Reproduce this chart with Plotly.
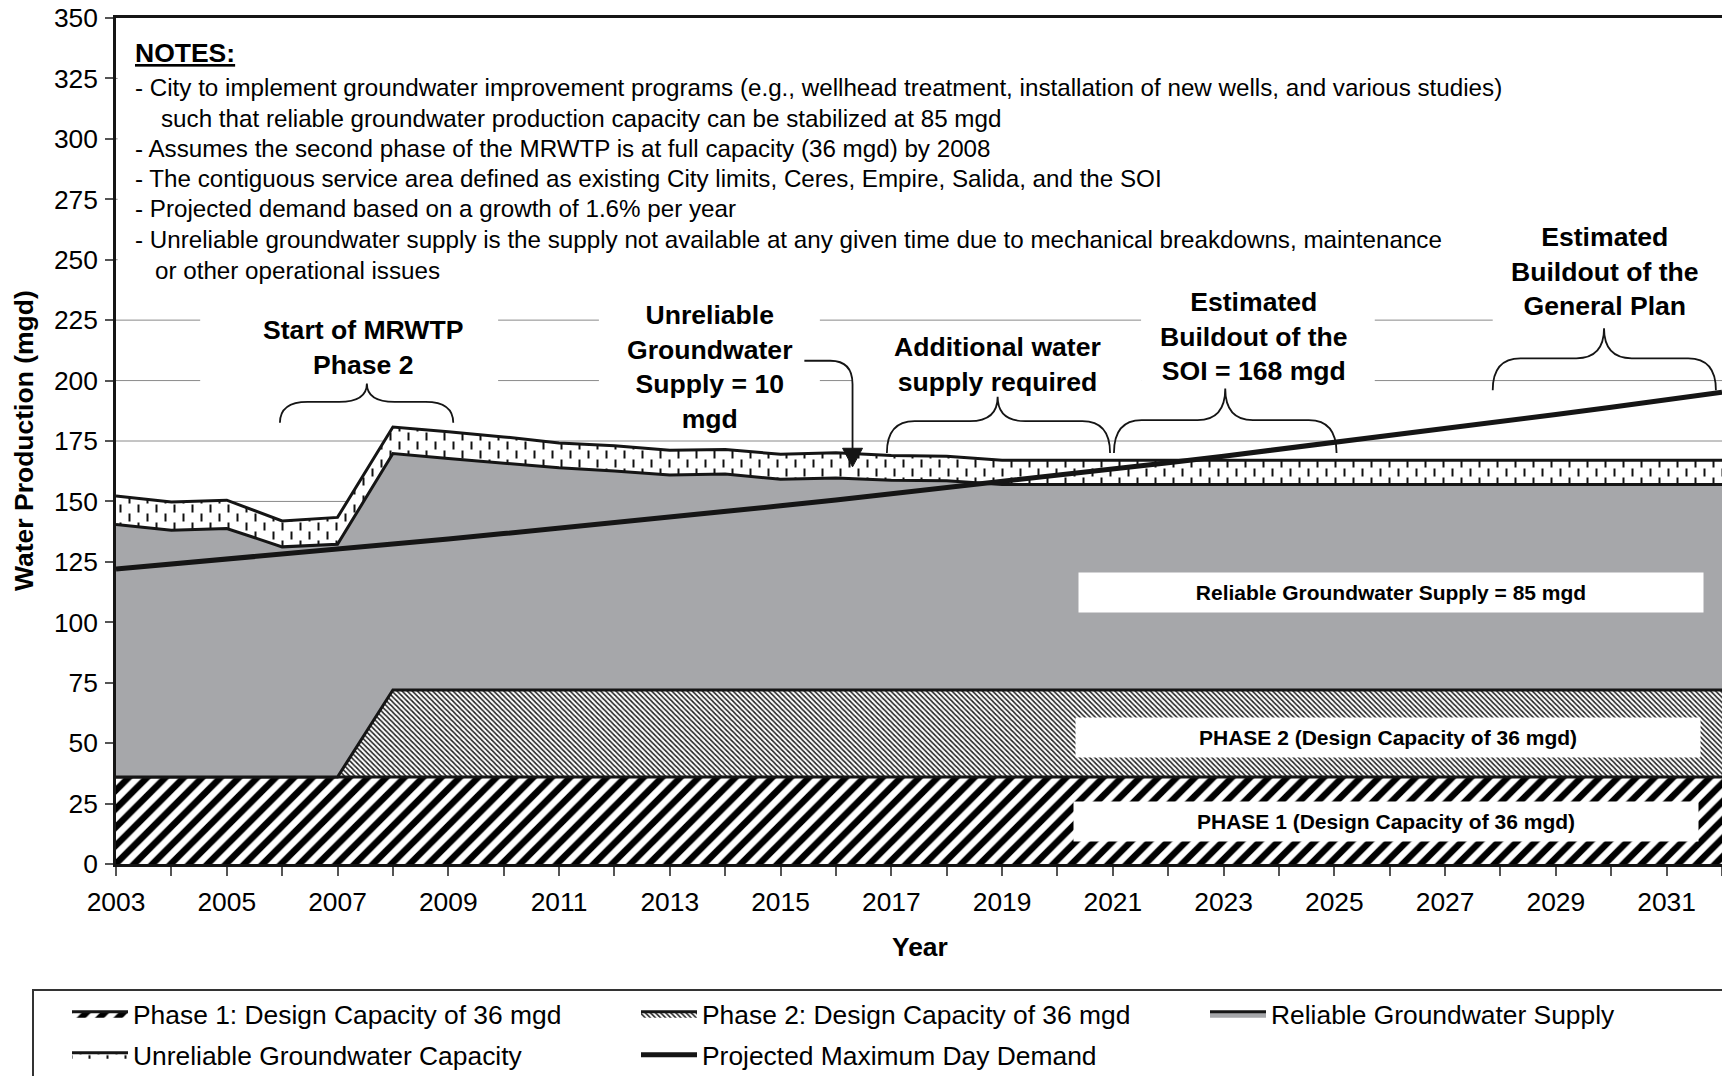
import plotly.graph_objects as go

# ---------------- data ----------------
years = [2003, 2004, 2005, 2006, 2007, 2008, 2009, 2010, 2011, 2012,
         2013, 2014, 2015, 2016, 2017, 2018, 2019, 2020, 2021, 2022,
         2023, 2024, 2025, 2026, 2027, 2028, 2029, 2030, 2031, 2032]

phase1 = [36, 36, 36, 36, 36, 36, 36, 36, 36, 36,
          36, 36, 36, 36, 36, 36, 36, 36, 36, 36,
          36, 36, 36, 36, 36, 36, 36, 36, 36, 36]

phase2 = [0, 0, 0, 0, 0, 36, 36, 36, 36, 36,
          36, 36, 36, 36, 36, 36, 36, 36, 36, 36,
          36, 36, 36, 36, 36, 36, 36, 36, 36, 36]

reliable = [104.5, 102.1, 102.8, 95.2, 96.3, 97.8, 95.8, 93.9, 91.9, 90.6,
            88.9, 89.3, 87.2, 87.7, 86.8, 86.6, 85, 85, 85, 85,
            85, 85, 85, 85, 85, 85, 85, 85, 85, 85]

unreliable = [11.7, 11.7, 11.7, 10.7, 11.1, 11.0, 11.0, 10.8, 10.3, 10.4,
              10.3, 10.2, 10.3, 10.4, 10.2, 10.1, 10, 10, 10, 10,
              10, 10, 10, 10, 10, 10, 10, 10, 10, 10]

demand = [122.0, 124.0, 126.0, 128.1, 130.2, 132.3, 134.5, 136.7, 138.9, 141.2,
          143.5, 145.8, 148.2, 150.6, 153.1, 155.6, 158.1, 160.7, 163.3, 166.0,
          168.7, 171.5, 174.3, 177.1, 180.0, 183.0, 186.0, 189.0, 192.1, 195.2]

series_names = ["Phase 1: Design Capacity of 36 mgd",
                "Phase 2: Design Capacity of 36 mgd",
                "Reliable Groundwater Supply",
                "Unreliable Groundwater Capacity",
                "Projected Maximum Day Demand"]

y_ticks = [0, 25, 50, 75, 100, 125, 150, 175, 200, 225, 250, 275, 300, 325, 350]

notes = [
    "- City to implement groundwater improvement programs (e.g., wellhead treatment, installation of new wells, and various studies)",
    "such that reliable groundwater production capacity can be stabilized at 85 mgd",
    "- Assumes the second phase of the MRWTP is at full capacity (36 mgd) by 2008",
    "- The contiguous service area defined as existing City limits, Ceres, Empire, Salida, and the SOI",
    "- Projected demand based on a growth of 1.6% per year",
    "- Unreliable groundwater supply is the supply not available at any given time due to mechanical breakdowns, maintenance",
    "or other operational issues",
]

# ---------------- geometry ----------------
W, H = 1722, 1076
PL, PT, PB, PR = 116, 18, 864, 1722           # plot-area edges in pixels
ML, MT, MB, MR = PL, PT, H - PB, W - PR
PW, PH = PR - PL, PB - PT

FONT = "Liberation Sans, Arial, Helvetica, sans-serif"
INK = "#151515"
GREY = "#a6a7aa"


def px(x, y):
    """page pixel -> paper coordinates"""
    return (x - PL) / PW, (PB - y) / PH


# ---------------- traces ----------------
DASHES = "M3.5,0.5h2v8h-2zM12.5,9.5h2v8h-2z"
unrel_pattern = dict(shape="|", fgcolor="#5a5a5a", bgcolor="white", size=9, solidity=0.22)
try:
    go.scatter.Fillpattern(path=DASHES, size=18, solidity=0.1)
    unrel_pattern = dict(path=DASHES, size=18, solidity=0.1,
                         fgcolor="#111111", fgopacity=1, bgcolor="white")
except Exception:
    pass

fig = go.Figure()
fig.add_trace(go.Scatter(
    x=years, y=phase1, name=series_names[0], stackgroup="supply", mode="lines",
    line=dict(color=INK, width=3), fillcolor="white", legend="legend",
    fillpattern=dict(shape="/", fgcolor="#000000", fgopacity=1, bgcolor="white",
                     size=13, solidity=0.5)))
fig.add_trace(go.Scatter(
    x=years, y=phase2, name=series_names[1], stackgroup="supply", mode="lines",
    line=dict(color=INK, width=3), fillcolor="white", legend="legend",
    fillpattern=dict(shape="\\", fgcolor="#222222", fgopacity=1, bgcolor="white",
                     size=3.6, solidity=0.45)))
fig.add_trace(go.Scatter(
    x=years, y=reliable, name=series_names[2], stackgroup="supply", mode="lines",
    line=dict(color=INK, width=3), fillcolor=GREY, legend="legend"))
fig.add_trace(go.Scatter(
    x=years, y=unreliable, name=series_names[3], stackgroup="supply", mode="lines",
    line=dict(color=INK, width=3), fillcolor="white", legend="legend2",
    fillpattern=unrel_pattern))
fig.add_trace(go.Scatter(
    x=years, y=demand, name=series_names[4], mode="lines", legend="legend2",
    line=dict(color=INK, width=5)))

# ---------------- gridlines + white text boxes ----------------
shapes = []
for v in y_ticks[1:-1]:
    shapes.append(dict(type="line", xref="paper", yref="y", x0=0, x1=1, y0=v, y1=v,
                       line=dict(color="#8a8a8a", width=1), layer="below"))
shapes.append(dict(type="rect", xref="paper", yref="y", x0=0.001, x1=1, y0=236, y1=349,
                   fillcolor="white", line=dict(width=0), layer="below"))
cover_boxes = [  # x0, x1, y0, y1 (text-box backgrounds)
    (2004.52, 2009.90, 183, 232),
    (2011.72, 2015.71, 183, 232),
    (2016.29, 2021.51, 183, 215),
    (2021.51, 2025.73, 183, 232),
    (2027.86, 2032.00, 212, 240),
]
for x0, x1, y0, y1 in cover_boxes:
    shapes.append(dict(type="rect", xref="x", yref="y", x0=x0, x1=x1, y0=y0, y1=y1,
                       fillcolor="white", line=dict(width=0), layer="below"))


def brace(x0, x1, xt, ye, ym, yt, dx=0.5):
    return (f"M {x0},{ye} Q {x0},{ym} {x0 + dx},{ym} L {xt - dx},{ym} Q {xt},{ym} {xt},{yt} "
            f"Q {xt},{ym} {xt + dx},{ym} L {x1 - dx},{ym} Q {x1},{ym} {x1},{ye}")


braces = [
    (2005.96, 2009.09, 2007.53, 182.5, 191.2, 198.8),
    (2016.92, 2020.95, 2018.92, 170.0, 183.2, 193.3),
    (2021.02, 2025.04, 2023.03, 170.0, 183.6, 196.7),
    (2027.86, 2031.89, 2029.87, 196.0, 209.2, 221.6),
]
for b in braces:
    shapes.append(dict(type="path", xref="x", yref="y", path=brace(*b),
                       line=dict(color=INK, width=1.8), layer="above"))

shapes.append(dict(type="path", xref="x", yref="y",
                   path="M 2015.43,208.2 L 2015.90,208.2 Q 2016.30,208.2 2016.30,198.5 L 2016.30,171.8",
                   line=dict(color=INK, width=1.8), layer="above"))
shapes.append(dict(type="path", xref="x", yref="y",
                   path="M 2016.12,172.0 L 2016.48,172.0 L 2016.30,164.3 Z",
                   fillcolor=INK, line=dict(color=INK, width=1), layer="above"))

# legend frame (runs past the right and bottom edges, as in the original)
bx0, by0 = px(33, 990)
bx1, by1 = px(1760, 1120)
shapes.append(dict(type="rect", xref="paper", yref="paper", x0=bx0, x1=bx1, y0=by0, y1=by1,
                   line=dict(color="#333333", width=2), fillcolor="rgba(0,0,0,0)", layer="above"))

# ---------------- annotations ----------------
ann = []
nx, ny = px(133, 53.3)
ann.append(dict(xref="paper", yref="paper", x=nx, y=ny, xanchor="left", yanchor="middle",
                text="<b><u>NOTES:</u></b>", showarrow=False,
                font=dict(family=FONT, size=26.5, color="#000")))
note_pos = [(133, 87.3), (159, 118.3), (133, 148.3), (133, 178.3), (133, 208.3), (133, 239.3), (153, 270.0)]
for t, (x, y) in zip(notes, note_pos):
    ax, ay = px(x, y)
    ann.append(dict(xref="paper", yref="paper", x=ax, y=ay, xanchor="left", yanchor="middle",
                    text=t, showarrow=False, font=dict(family=FONT, size=24.2, color="#000")))

bold_labels = [
    ("Start of MRWTP<br>Phase 2", 2007.46, 213.8),
    ("Unreliable<br>Groundwater<br>Supply = 10<br>mgd", 2013.71, 205.8),
    ("Additional water<br>supply required", 2018.91, 206.6),
    ("Estimated<br>Buildout of the<br>SOI = 168 mgd", 2023.55, 218.4),
    ("Estimated<br>Buildout of the<br>General Plan", 2029.89, 245.1),
]
for t, x, y in bold_labels:
    ann.append(dict(xref="x", yref="y", x=x, y=y, xanchor="center", yanchor="middle",
                    text=f"<b>{t}</b>", showarrow=False,
                    font=dict(family=FONT, size=26.6, color="#000")))

box_labels = [
    ("Reliable Groundwater Supply = 85 mgd", 2026.02, 112.4),
    ("PHASE 2 (Design Capacity of 36 mgd)", 2025.97, 52.4),
    ("PHASE 1 (Design Capacity of 36 mgd)", 2025.94, 17.4),
]
for t, x, y in box_labels:
    ann.append(dict(xref="x", yref="y", x=x, y=y, xanchor="center", yanchor="middle",
                    text=f"<b>{t}</b>", showarrow=False, width=624, height=39,
                    bgcolor="white", borderpad=0,
                    font=dict(family=FONT, size=21, color="#000")))

tx, ty = px(920, 946.5)
ann.append(dict(xref="paper", yref="paper", x=tx, y=ty, xanchor="center", yanchor="middle",
                text="<b>Year</b>", showarrow=False, font=dict(family=FONT, size=26.4, color="#000")))
tx, ty = px(24, 441)
ann.append(dict(xref="paper", yref="paper", x=tx, y=ty, xanchor="center", yanchor="middle",
                text="<b>Water Production (mgd)</b>", textangle=-90, showarrow=False,
                font=dict(family=FONT, size=26.5, color="#000")))

legend_common = dict(orientation="h", xanchor="left", yanchor="top",
                     borderwidth=0, bgcolor="rgba(0,0,0,0)",
                     font=dict(family=FONT, size=26.4, color="#000"),
                     itemwidth=56, indentation=34, entrywidth=464, entrywidthmode="pixels",
                     traceorder="normal", itemclick=False, itemdoubleclick=False)
l1x, l1y = px(33, 990)
l2x, l2y = px(33, 1031)

fig.update_layout(
    width=W, height=H,
    margin=dict(l=ML, r=MR, t=MT, b=MB, autoexpand=False),
    paper_bgcolor="white", plot_bgcolor="white",
    font=dict(family=FONT, size=26.4, color="#000"),
    showlegend=True,
    legend=dict(x=l1x, y=l1y, **legend_common),
    legend2=dict(x=l2x, y=l2y, **legend_common),
    xaxis=dict(range=[2003, 2032], tick0=2003, dtick=2, ticks="outside", ticklen=9,
               tickcolor="#555", tickwidth=1.5, showgrid=False, zeroline=False,
               showline=True, linecolor=INK, linewidth=2.5, mirror=True,
               ticklabelstandoff=4,
               minor=dict(dtick=1, tick0=2003, ticks="outside", ticklen=9, tickcolor="#555",
                          tickwidth=1.5, showgrid=False),
               tickfont=dict(family=FONT, size=26.4, color="#000")),
    yaxis=dict(range=[0, 350], tickvals=y_ticks, ticks="outside", ticklen=8,
               tickcolor="#555", tickwidth=1.5, showgrid=False,
               zeroline=False, showline=True, linecolor=INK, linewidth=2.5,
               ticklabelstandoff=2, ticklabeloverflow="allow",
               tickfont=dict(family=FONT, size=26.4, color="#000")),
    shapes=shapes,
    annotations=ann,
    hovermode=False,
)

# the page's default 8px body margin would push the 1722x1076 figure off-screen
fig.write_html(
    "out.html",
    config={"displayModeBar": False},
    post_script=("document.body.style.margin='0';"
                 "document.body.style.overflow='hidden';"
                 "document.documentElement.style.overflow='hidden';"),
)
